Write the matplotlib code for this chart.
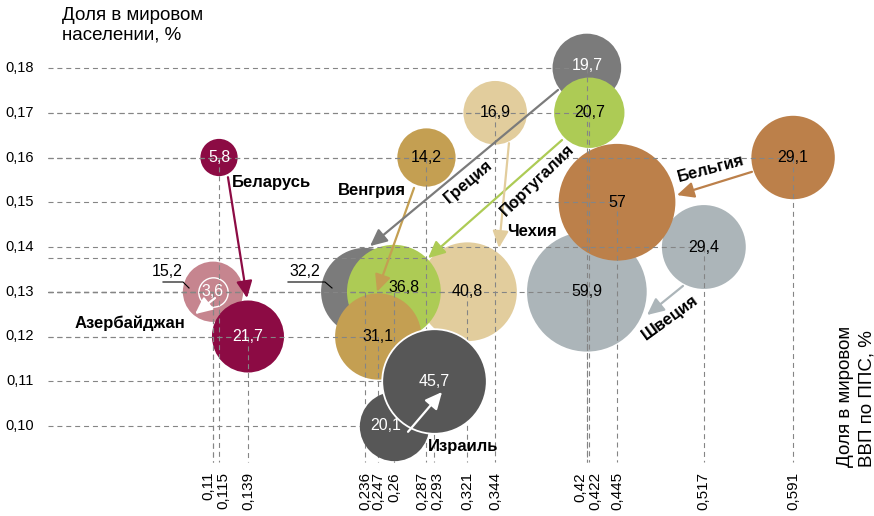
import numpy as np
import matplotlib
matplotlib.use("Agg")
import matplotlib.pyplot as plt
from matplotlib.patches import FancyArrowPatch

plt.rcParams['font.family'] = ['Liberation Sans', 'DejaVu Sans']

# ---------------- data ----------------
countries = ['Беларусь', 'Азербайджан', 'Венгрия', 'Греция', 'Португалия',
             'Чехия', 'Израиль', 'Бельгия', 'Швеция']
# share of world GDP (PPP), %  (x) ; share of world population, % (y); bubble value
x_start = [0.115, 0.11, 0.287, 0.42, 0.422, 0.344, 0.26, 0.591, 0.517]
y_start = [0.16, 0.13, 0.16, 0.18, 0.17, 0.17, 0.10, 0.16, 0.14]
v_start = [5.8, 3.6, 14.2, 19.7, 20.7, 16.9, 20.1, 29.1, 29.4]
x_end = [0.139, 0.11, 0.247, 0.236, 0.26, 0.321, 0.293, 0.445, 0.42]
y_end = [0.12, 0.13, 0.12, 0.13, 0.13, 0.13, 0.11, 0.15, 0.13]
v_end = [21.7, 15.2, 31.1, 32.2, 36.8, 40.8, 45.7, 57, 59.9]

# arrows (data coords)
arrow_x0 = [0.1224, 0.1117, 0.2767, 0.3961, 0.3994, 0.3554, 0.2717, 0.5569, 0.4997]
arrow_y0 = [0.1556, 0.1286, 0.1532, 0.1751, 0.1639, 0.1632, 0.0987, 0.1568, 0.1313]
arrow_x1 = [0.1382, 0.0951, 0.2460, 0.2402, 0.2883, 0.3471, 0.2999, 0.4947, 0.4699]
arrow_y1 = [0.1286, 0.1250, 0.1300, 0.1402, 0.1375, 0.1398, 0.1076, 0.1516, 0.1248]

y_ticks = [0.10, 0.11, 0.12, 0.13, 0.14, 0.15, 0.16, 0.17, 0.18]
x_ticks = [0.11, 0.115, 0.139, 0.236, 0.247, 0.26, 0.287, 0.293, 0.321, 0.344,
           0.42, 0.422, 0.445, 0.517, 0.591]
extra_guide_x = [0.287]
extra_guide_y = [0.1375]

# ---------------- styles ----------------
colors = ['#8C0B44', '#C6858F', '#C49F52', '#7B7B7B', '#ADCB55',
          '#E2CD9D', '#575757', '#BC804A', '#ACB5B9']
arrow_colors = ['#8C0B44', 'white', '#C49F52', '#7B7B7B', '#ADCB55',
                '#E2CD9D', 'white', '#BC804A', '#ACB5B9']
white_text = {0, 1, 6}

W, H = 874, 516
fig = plt.figure(figsize=(W / 100, H / 100), dpi=100)
ax = fig.add_axes([0, 0, 1, 1])
X0, X1 = 0.11 - 213 / 1206, 0.11 + 661 / 1206
Y0, Y1 = 0.10 - 90 / 4475, 0.10 + 426 / 4475
ax.set_xlim(X0, X1)
ax.set_ylim(Y0, Y1)
ax.axis('off')


def P(px, py):
    return X0 + px / W * (X1 - X0), Y1 - py / H * (Y1 - Y0)


def S(v):
    return 124.0 * v


x_left = P(48, 0)[0]
y_bottom = P(0, 462)[1]
dash = dict(color='#858585', lw=0.8, ls=(0, (4.5, 3.5)), zorder=3)

# guide lines
for xs, ys in ((x_start, y_start), (x_end, y_end), (extra_guide_x, extra_guide_y)):
    for xv, yv in zip(xs, ys):
        ax.plot([x_left, xv], [yv, yv], **dash)
for xs, ys in ((x_start, y_start), (x_end, y_end)):
    for xv, yv in zip(xs, ys):
        ax.plot([xv, xv], [yv, y_bottom], **dash)

# bubbles: drawing order
order = [('e', 8), ('s', 8), ('e', 7), ('s', 7), ('s', 3), ('s', 4), ('s', 5),
         ('s', 2), ('e', 3), ('e', 5), ('e', 4), ('e', 2), ('e', 1), ('s', 1),
         ('s', 0), ('e', 0)]
for kind, i in order:
    if kind == 's':
        xv, yv, vv = x_start[i], y_start[i], v_start[i]
    else:
        xv, yv, vv = x_end[i], y_end[i], v_end[i]
    ec, lw = 'none', 0
    if kind == 's' and i == 1:
        ec, lw = 'white', 1.0
    ax.scatter([xv], [yv], s=S(vv), color=colors[i], edgecolors=ec,
               linewidths=lw, zorder=2)
# Israel on top of the guides
ax.scatter([x_start[6]], [y_start[6]], s=S(v_start[6]), color=colors[6],
           linewidths=0, zorder=4)
ax.scatter([x_end[6]], [y_end[6]], s=S(v_end[6]), color=colors[6],
           edgecolors='white', linewidths=1.3, zorder=4.1)


def fmt(v):
    return ('%g' % v).replace('.', ',')


# value labels
lab_off = {('e', 4): (7, 3), ('s', 6): (-6, 0), ('s', 3): (0, 2)}
for i in range(len(countries)):
    for kind, xv, yv, vv in (('s', x_start[i], y_start[i], v_start[i]),
                             ('e', x_end[i], y_end[i], v_end[i])):
        if kind == 'e' and i in (1, 3):
            continue
        col = 'white' if (i in white_text or (i == 3 and kind == 's')) else 'black'
        if i == 1 and kind == 'e':
            col = 'black'
        dx, dy = lab_off.get((kind, i), (0, 0))
        ax.annotate(fmt(vv), (xv, yv), xytext=(dx, dy), textcoords='offset points',
                    ha='center', va='center', fontsize=11.5, color=col, zorder=7)

# outside labels with leaders (Азербайджан 15,2 ; Греция 32,2)
for i, tx, ty, l0, l1, l2 in ((1, 167, 272, 163, 183, (189, 288)),
                              (3, 305, 272, 288, 325, (332, 288))):
    ax.text(*P(tx, ty), fmt(v_end[i]), ha='center', va='center', fontsize=11.5,
            color='black', zorder=7)
    pts = [P(l0, 282), P(l1, 282), P(*l2)]
    ax.plot([p[0] for p in pts], [p[1] for p in pts], color='black', lw=0.8,
            zorder=7)

# arrows
for i in range(len(countries)):
    a = FancyArrowPatch((arrow_x0[i], arrow_y0[i]), (arrow_x1[i], arrow_y1[i]),
                        arrowstyle='-|>,head_length=0.85,head_width=0.4',
                        mutation_scale=12, color=arrow_colors[i], lw=1.6,
                        shrinkA=0, shrinkB=0, zorder=6)
    ax.add_patch(a)

# country labels
name_pos = [(232, 183, 0, 'left'), (130, 323, 0, 'center'), (372, 191, 0, 'center'),
            (468, 182, 40, 'center'), (537, 180, 44, 'center'), (532, 231, 0, 'center'),
            (463, 447, 0, 'center'), (711, 169, 15, 'center'), (670, 318, 36, 'center')]
for name, (px, py, rot, ha) in zip(countries, name_pos):
    ax.text(*P(px, py), name, ha=ha, va='center', rotation=rot,
            rotation_mode='anchor', fontsize=12, fontweight='bold', zorder=8)

# y tick labels
for yv in y_ticks:
    ax.text(P(34, 0)[0], yv, ('%.2f' % yv).replace('.', ','),
            ha='right', va='center', fontsize=10.5)

# x tick labels (nudge close neighbours apart)
xpix = [(xv - X0) / (X1 - X0) * W for xv in x_ticks]
nudge = [0.0] * len(x_ticks)
for k in range(len(x_ticks) - 1):
    if xpix[k + 1] - xpix[k] < 12:
        gap = 15 - (xpix[k + 1] - xpix[k])
        nudge[k] -= gap / 2
        nudge[k + 1] += gap / 2
y_lab = P(0, 472)[1]
for xv, nd in zip(x_ticks, nudge):
    lab = ('%g' % xv).replace('.', ',')
    ax.annotate(lab, (xv, y_lab), xytext=(nd * 0.72, 0), textcoords='offset points',
                ha='center', va='top', rotation=90, fontsize=11)

# axis titles
fig.text(62 / W, 1 - 7 / H, 'Доля в мировом\nнаселении, %', ha='left', va='top',
         fontsize=13.5, linespacing=1.2)
fig.text(837 / W, 1 - 467 / H, 'Доля в мировом\nВВП по ППС, %', ha='left', va='top',
         rotation=90, rotation_mode='anchor', fontsize=13.5, linespacing=1.35)

fig.savefig('out.png', dpi=100)
